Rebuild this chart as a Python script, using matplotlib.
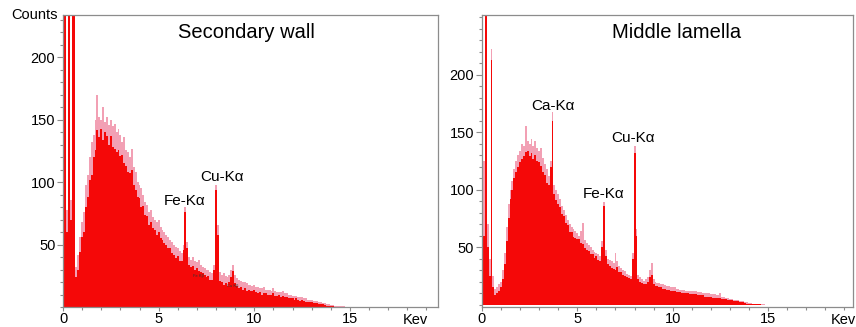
import matplotlib
matplotlib.use('Agg')
import matplotlib.pyplot as plt
from matplotlib.ticker import MultipleLocator, FixedLocator
import numpy as np

matplotlib.rc('font', family=['Liberation Sans', 'DejaVu Sans'], size=10.5)

# channel energies (keV), 0.1 keV bins
energy = np.round(np.arange(0, 15.01, 0.1), 1)

# Secondary wall: dense (red) level and noisy upper envelope (pink)
sw_core = [300, 300, 60, 300, 70, 300, 300, 24, 30, 44,
           56, 60, 80, 88, 102, 106, 120, 126, 142, 136,
           143, 134, 140, 137, 130, 137, 128, 127, 124, 126,
           121, 122, 115, 113, 108, 107, 110, 98, 94, 88,
           87, 80, 81, 74, 73, 66, 68, 63, 62, 58,
           60, 55, 54, 51, 50, 47, 47, 43, 42, 39,
           41, 37, 37, 46, 76, 47, 34, 32, 33, 30,
           31, 29, 28, 27, 26, 24, 25, 22, 22, 30,
           94, 58, 21, 20, 18, 19, 17, 20, 24, 29,
           19, 17, 15, 16, 14, 15, 13, 14, 13, 13,
           14, 12, 11, 12, 10, 11, 11, 10, 10, 10,
           11, 9, 9, 10, 8, 9, 8, 8, 7, 7,
           7, 6, 7, 6, 5, 6, 5, 4, 4, 4,
           4, 3, 3, 3, 2, 2, 2, 1.5, 1, 0.8,
           0.5, 0.5, 0.3, 0.3, 0.2, 0.2, 0.1, 0.1, 0, 0,
           0]
sw_peak = [300, 300, 78, 300, 86, 300, 300, 32, 42, 56,
           68, 76, 98, 106, 120, 132, 138, 150, 170, 152,
           150, 160, 148, 152, 146, 150, 145, 147, 140, 143,
           138, 132, 136, 126, 124, 120, 127, 112, 108, 100,
           98, 95, 90, 84, 82, 76, 78, 72, 70, 68,
           70, 64, 62, 60, 58, 56, 54, 52, 50, 48,
           47, 45, 43, 50, 80, 52, 40, 38, 40, 37,
           36, 38, 34, 32, 31, 30, 30, 28, 27, 34,
           98, 66, 28, 26, 27, 25, 24, 26, 30, 34,
           26, 23, 22, 21, 20, 20, 19, 18, 18, 17,
           18, 16, 16, 15, 15, 16, 14, 14, 14, 13,
           15, 13, 12, 12, 12, 13, 11, 11, 10, 10,
           9, 9, 9, 8, 8, 8, 7, 7, 6, 6,
           6, 5, 5, 5, 4, 4, 3, 3, 2, 2,
           1.5, 1.2, 1, 0.8, 0.8, 0.6, 0.5, 0.4, 0.3, 0.2,
           0]

# Middle lamella
ml_core = [300, 60, 300, 50, 25, 213, 15, 8, 10, 12,
           15, 22, 35, 55, 75, 92, 100, 110, 115, 120,
           124, 127, 129, 133, 134, 129, 132, 127, 130, 125,
           124, 121, 115, 113, 106, 104, 120, 160, 96, 91,
           88, 85, 79, 77, 71, 69, 63, 63, 59, 58,
           57, 57, 54, 53, 49, 48, 47, 44, 44, 41,
           42, 39, 38, 50, 86, 42, 35, 34, 32, 31,
           30, 33, 28, 28, 26, 25, 24, 23, 22, 40,
           132, 60, 22, 20, 19, 18, 18, 20, 24, 26,
           18, 16, 16, 15, 15, 14, 14, 13, 13, 12,
           12, 12, 11, 11, 11, 10, 10, 10, 10, 9,
           9, 9, 9, 8, 8, 8, 8, 7, 7, 7,
           7, 6, 6, 6, 6, 6, 5, 5, 5, 4,
           4, 4, 3, 3, 3, 2, 2, 2, 1.5, 1,
           1, 0.8, 0.6, 0.5, 0.4, 0.3, 0.2, 0.1, 0, 0,
           0]
ml_peak = [300, 125, 300, 70, 40, 222, 25, 14, 15, 18,
           20, 30, 45, 68, 88, 100, 108, 118, 125, 130,
           134, 140, 138, 155, 142, 140, 144, 138, 142, 136,
           134, 136, 128, 122, 118, 112, 125, 168, 104, 100,
           96, 92, 86, 82, 78, 74, 70, 68, 66, 64,
           62, 60, 64, 71, 56, 54, 52, 50, 48, 46,
           45, 44, 42, 55, 89, 48, 40, 39, 38, 36,
           45, 38, 34, 32, 30, 29, 27, 26, 25, 45,
           138, 66, 26, 24, 22, 21, 22, 24, 30, 36,
           22, 20, 19, 19, 18, 18, 17, 16, 16, 15,
           15, 15, 14, 14, 13, 13, 13, 12, 12, 12,
           12, 12, 12, 11, 11, 11, 10, 10, 10, 10,
           9, 9, 9, 8, 8, 10, 7, 7, 6, 6,
           5, 5, 4, 4, 4, 3, 3, 3, 2, 2,
           1.5, 1.2, 1, 0.8, 0.7, 0.5, 0.4, 0.3, 0.2, 0.1,
           0]

red = '#F50808'
pink = '#F2A0B4'
edge = '#8C8C8C'

fig = plt.figure(figsize=(8.56, 3.27), dpi=100)
ax1 = fig.add_axes([0.0736, 0.0612, 0.438, 0.893])
ax2 = fig.add_axes([0.563, 0.0612, 0.4335, 0.893])

panels = [
    (ax1, sw_core, sw_peak, 'Secondary wall', 0.49, (0, 19.6), (0, 234),
     [('Fe-K\u03b1', 6.33, 85), ('Cu-K\u03b1', 8.29, 104.5)], 0.939),
    (ax2, ml_core, ml_peak, 'Middle lamella', 0.525, (0, 19.45), (-2, 252),
     [('Ca-K\u03b1', 3.7, 173), ('Fe-K\u03b1', 6.4, 96), ('Cu-K\u03b1', 7.92, 145)], 0.973),
]

for ax, core, peak, title, tx, xl, yl, labels, kx in panels:
    ax.fill_between(energy, peak, step='mid', color=pink, lw=0)
    ax.fill_between(energy, core, step='mid', color=red, lw=0)
    ax.set_xlim(*xl)
    ax.set_ylim(*yl)
    ax.xaxis.set_major_locator(FixedLocator([0, 5, 10, 15]))
    ax.xaxis.set_minor_locator(MultipleLocator(1))
    ax.yaxis.set_major_locator(FixedLocator([50, 100, 150, 200]))
    ax.yaxis.set_minor_locator(MultipleLocator(10))
    ax.tick_params(which='both', direction='out', color=edge, width=0.8)
    ax.tick_params(which='major', length=4, pad=1.5)
    ax.tick_params(axis='x', which='major', length=3, pad=0.5, labelsize=10.5)
    ax.tick_params(which='minor', length=2.5)
    for s in ax.spines.values():
        s.set_color(edge)
        s.set_linewidth(0.9)
    ax.text(tx, 0.94, title, transform=ax.transAxes, ha='center', va='center', fontsize=14.5)
    for txt, x, y in labels:
        ax.text(x, y, txt, ha='center', va='center', fontsize=11)
    ax.text(kx, -0.043, 'Kev', transform=ax.transAxes, ha='center', va='center', fontsize=10.5)

ax1.text(-0.015, 1.0, 'Counts', transform=ax1.transAxes, ha='right', va='center', fontsize=10.5)
ax1.text(7.07, 25, 'Fe K\u03b2', ha='center', va='center', fontsize=3, color='#333333')
ax1.text(8.9, 17, 'Cu K\u03b2', ha='center', va='center', fontsize=3, color='#333333')

fig.savefig('out.png', dpi=100)
